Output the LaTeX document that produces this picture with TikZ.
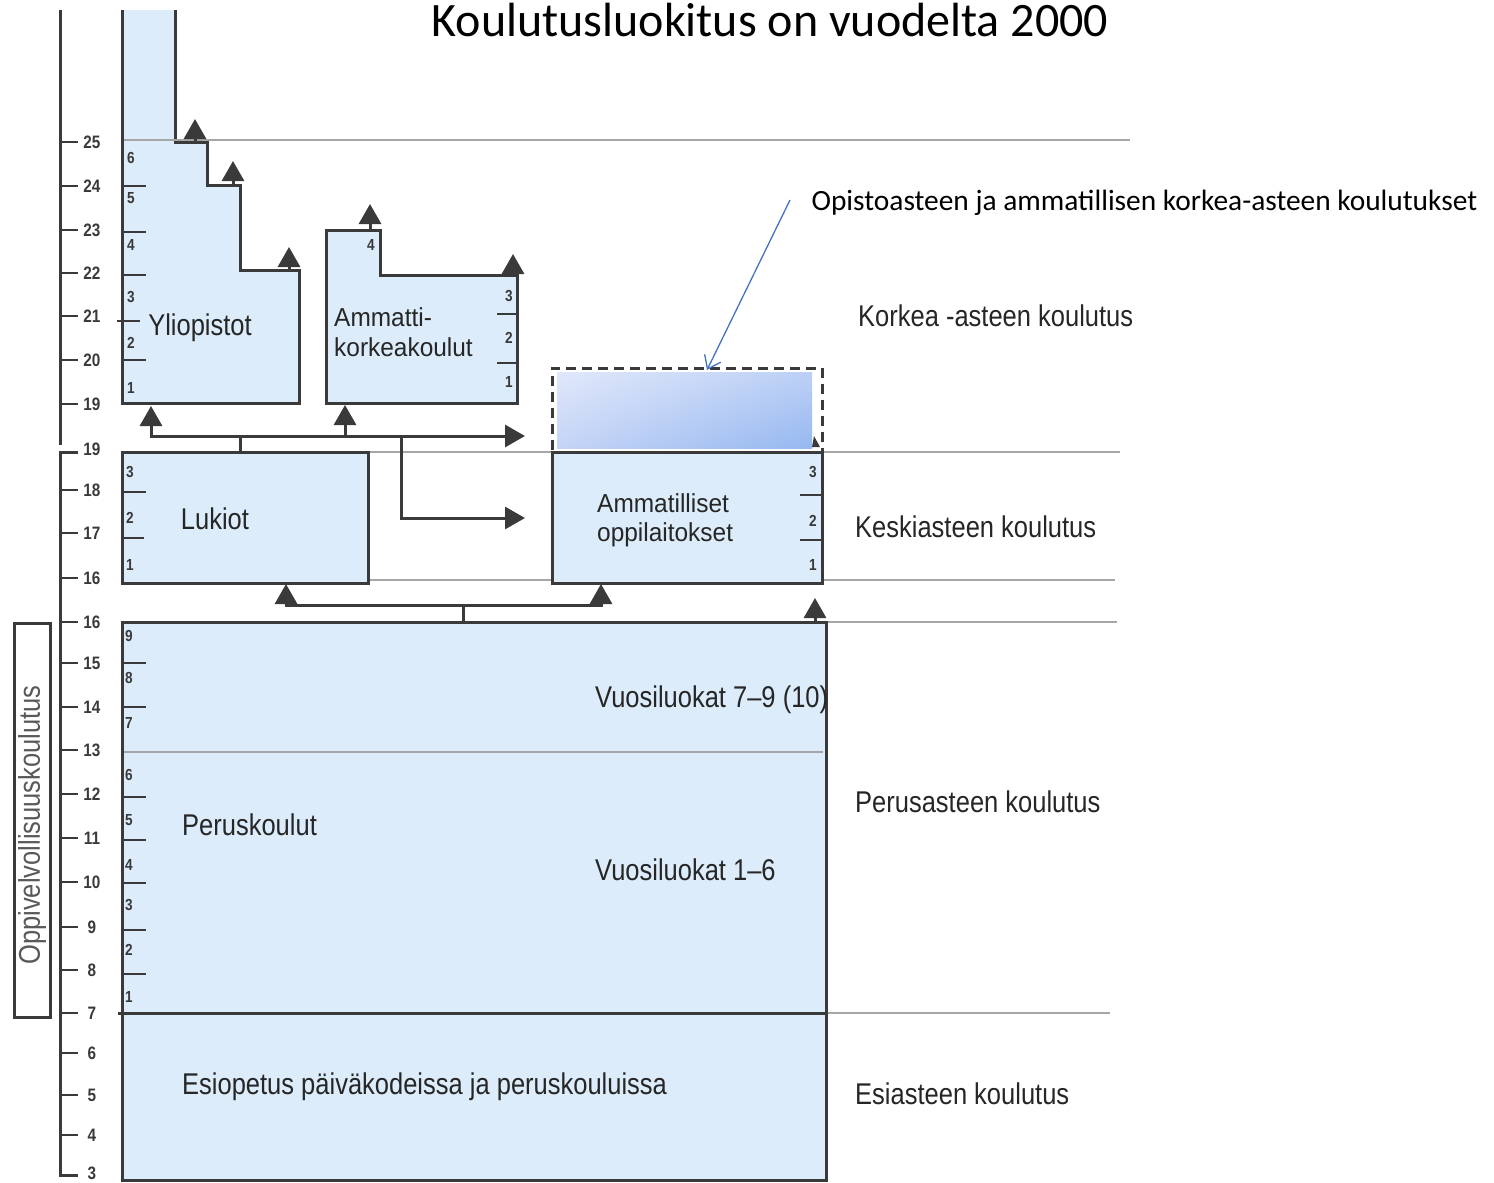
\documentclass[tikz,border=0pt]{standalone}
\usepackage{fontspec}
\setmainfont{Liberation Sans}
\newfontfamily\chartfont[FakeStretch=0.85]{Liberation Sans}
\newfontfamily\chartwide[FakeStretch=0.94]{Liberation Sans}
\newfontfamily\titlefont{Carlito}
\usetikzlibrary{arrows.meta,positioning,shadings}

\definecolor{boxblue}{RGB}{220,236,250}
\definecolor{linec}{RGB}{58,58,58}
\definecolor{levelgray}{RGB}{166,166,166}
\definecolor{annoblue}{RGB}{68,114,196}
\definecolor{gradUL}{RGB}{224,232,250}
\definecolor{gradUR}{RGB}{188,208,246}
\definecolor{gradLL}{RGB}{196,212,246}
\definecolor{gradLR}{RGB}{150,184,240}

\begin{document}
\begin{tikzpicture}[x=1pt,y=-1pt,
  box/.style={fill=boxblue,draw=linec,line width=3pt},
  edge/.style={draw=linec,line width=3pt},
  tick/.style={draw=linec,line width=2.5pt},
  level/.style={draw=levelgray,line width=2.5pt},
  arr/.style={draw=linec,line width=3pt,-{Triangle[length=20pt,width=22pt]}},
  big/.style={font=\chartfont\fontsize{30}{25}\selectfont,text=black!85,inner sep=0pt},
  pair/.style={font=\chartwide\fontsize{26}{26}\selectfont,text=black!85,inner sep=0pt,anchor=west},
  num/.style={font=\chartfont\bfseries\fontsize{16}{16}\selectfont,text=linec,inner sep=0pt},
  age/.style={font=\chartfont\bfseries\fontsize{18}{18}\selectfont,text=linec,inner sep=0pt}]

\useasboundingbox (0,0) rectangle (1494,1183);

\node[font=\titlefont\fontsize{48}{48}\selectfont] (title) at (770,20) {Koulutusluokitus on vuodelta 2000};

% level lines
\draw[level] (368,452) -- (1120,452);
\draw[level] (368,580) -- (1115,580);
\draw[level] (826,622) -- (1117,622);
\draw[level] (826,1013) -- (1110,1013);

% age axis
\draw[edge] (60,10) -- (60,445);
\draw[edge] (78,452) -- (60,452) -- (60,1175) -- (78,1175);
\foreach \y in {142,186,230,273,316,360,404,490,533,578,622,663,707,750,794,838,882,927,970,1013,1053,1095,1135}
  \draw[tick] (60,\y) -- (78,\y);
\foreach \a/\y in {25/142,24/186,23/230,22/273,21/316,20/360,19/404,19/449,18/490,17/533,16/578,16/622,15/663,14/707,13/750,12/794,11/838,10/882,9/927,8/970,7/1013,6/1053,5/1095,4/1135,3/1173}
  \node[age] at (92,\y) {\a};

\draw[edge] (14,623) rectangle (50,1017);
\node[big,rotate=90,text=black!65] (oppiv) at (32,825) {Oppivelvollisuuskoulutus};

% Yliopistot
\draw[box] (175,10) -- (175,142) -- (207,142) -- (207,185) -- (240,185) -- (240,270) -- (299,270) -- (299,403) -- (122,403) -- (122,10);
\draw[level] (124,140) -- (1130,140);
\foreach \y in {186,232,275,360}
  \draw[tick] (122,\y) -- (146,\y);
\draw[tick] (117,321) -- (140,321);
\foreach \n/\y in {1/388,2/343,3/297,4/245,5/198,6/158}
  \node[num] at (131,\y) {\n};
\node[big] (yo) at (200,328) {Yliopistot};
\draw[arr] (195,142) -- (195,119);
\draw[arr] (233,185) -- (233,161);
\draw[arr] (289,270) -- (289,247);

% Ammattikorkeakoulut
\draw[box] (326,403) -- (326,230) -- (380,230) -- (380,275) -- (517,275) -- (517,403) -- cycle;
\draw[tick] (497,314) -- (519,314);
\draw[tick] (497,363) -- (519,363);
\foreach \n/\y in {1/382,2/338,3/296}
  \node[num] at (509,\y) {\n};
\node[num] at (371,245) {4};
\node[pair] (amk) at (334,317) {Ammatti-};
\node[pair] (amk2) at (334,347) {korkeakoulut};
\draw[arr] (370,230) -- (370,204);
\draw[arr] (513,276) -- (513,254);

% Lukiot
\draw[box] (122,452) rectangle (368,583);
\draw[tick] (122,492) -- (146,492);
\draw[tick] (122,538) -- (144,538);
\foreach \n/\y in {1/565,2/518,3/472}
  \node[num] at (130,\y) {\n};
\node[big] (lukio) at (215,519) {Lukiot};

\coordinate (lukTop) at (240,452);
\coordinate (lukJ) at (240,436);
\coordinate (yoIn) at (151,406);
\coordinate (amkIn) at (345,405);
\coordinate (toAmm) at (401,436);
\coordinate (opIn) at (525,436);
\coordinate (ammIn) at (525,518);
\draw[edge] (lukTop) -- (lukJ);
\draw[arr] (lukJ) -| (yoIn);
\draw[arr] (lukJ) -| (amkIn);
\draw[arr] (lukJ) -- (opIn);
\draw[arr] (toAmm) |- (ammIn);

% Ammatilliset oppilaitokset
\draw[box] (552,452) rectangle (822,583);
\draw[tick] (800,495) -- (822,495);
\draw[tick] (800,540) -- (822,540);
\foreach \n/\y in {1/565,2/521,3/472}
  \node[num] at (813,\y) {\n};
\node[pair] (amm) at (597,503) {Ammatilliset};
\node[pair] (amm2) at (597,535) {oppilaitokset};

% opistoaste
\draw[edge,dash pattern=on 10pt off 6pt] (552,450) -- (552,368) -- (822,368) -- (822,452);
\shade[upper left=gradUL,upper right=gradUR,lower left=gradLL,lower right=gradLR] (557,372) rectangle (812,448);
\fill[linec] (812,447) -- (814,436) -- (820,447) -- cycle;
\coordinate (optip) at (707,370);
\node[font=\titlefont\fontsize{29.4}{29.4}\selectfont,anchor=west] (opisto) at (808,203) {Opistoasteen ja ammatillisen korkea-asteen koulutukset};
\draw[annoblue,line width=1.3pt,-{Straight Barb[length=12pt,width=18pt]}] (opisto.west) ++(-18,-3) -- (optip);

% Peruskoulut ja esiopetus
\draw[box] (122,622) rectangle (826,1180);
\draw[edge] (118,1013) -- (826,1013);
\draw[level] (124,752) -- (823,752);
\foreach \y in {663,707,797,840,883,930,974}
  \draw[tick] (122,\y) -- (146,\y);
\foreach \n/\y in {1/997,2/950,3/905,4/865,5/820,6/775,7/723,8/678,9/636}
  \node[num] at (129,\y) {\n};
\node[big,anchor=west] (vl79) at (595,700) {Vuosiluokat 7–9 (10)};
\node[big,anchor=west] (vl16) at (595,870) {Vuosiluokat 1–6};
\node[big,anchor=west] (perus) at (182,825) {Peruskoulut};
\node[big,anchor=west] (esi) at (182,1087) {Esiopetus päiväkodeissa ja peruskouluissa};

\coordinate (perTop) at (463,622);
\coordinate (perJ) at (463,605);
\coordinate (lukIn) at (286,584);
\coordinate (ammBot) at (601,584);
\draw[edge] (perTop) -- (perJ);
\draw[arr] (perJ) -| (lukIn);
\draw[arr] (perJ) -| (ammBot);
\draw[arr] (815,622) -- (815,598);

% koulutusasteet
\node[big,anchor=west] (korkea) at (858,316) {Korkea -asteen koulutus};
\node[big,anchor=west] (keski) at (855,527) {Keskiasteen koulutus};
\node[big,anchor=west] (perusaste) at (855,802) {Perusasteen koulutus};
\node[big,anchor=west] (esiaste) at (855,1094) {Esiasteen koulutus};

\end{tikzpicture}
\end{document}
